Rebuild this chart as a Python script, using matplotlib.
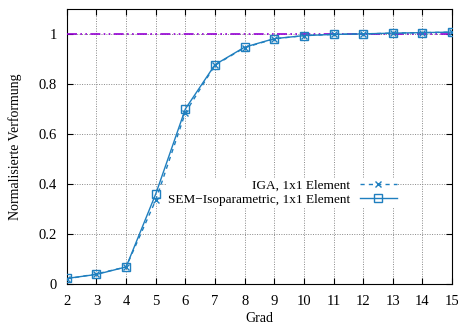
import matplotlib
matplotlib.use('Agg')
import matplotlib.pyplot as plt

plt.rcParams['font.family'] = ['Liberation Serif', 'DejaVu Serif']
plt.rcParams['font.size'] = 10

grad = [2, 3, 4, 5, 6, 7, 8, 9, 10, 11, 12, 13, 14, 15]
iga = [0.02, 0.04, 0.068, 0.335, 0.685, 0.875, 0.945, 0.98, 0.993, 0.998, 1.0, 1.003, 1.005, 1.007]
sem = [0.022, 0.038, 0.068, 0.36, 0.70, 0.877, 0.947, 0.981, 0.993, 0.998, 1.0, 1.003, 1.005, 1.007]
ref = [1.0, 1.0]

blue = '#1f7fbf'

fig = plt.figure(figsize=(4.58, 3.29), dpi=100)
ax = fig.add_axes([0.146, 0.137, 0.841, 0.836])

ax.plot([grad[0], grad[-1]], ref, color='#9400d3', linestyle=(0, (6, 2, 1, 2, 1, 2)), lw=1.2, zorder=3)
ax.plot(grad, iga, color=blue, linestyle=(0, (3, 3)), marker='x', ms=5, mew=1,
        lw=1, label='IGA, 1x1 Element', zorder=3)
ax.plot(grad, sem, color=blue, linestyle='-', marker='s', ms=6, mfc='none', mew=1,
        lw=1, label='SEM\u2212Isoparametric, 1x1 Element', zorder=3)

ax.set_xlim(2, 15)
ax.set_ylim(0, 1.1)
ax.set_xticks(grad)
ax.set_yticks([0, 0.2, 0.4, 0.6, 0.8, 1])
ax.set_yticklabels(['0', '0.2', '0.4', '0.6', '0.8', '1'])
ax.tick_params(direction='in', top=True, right=True, length=4, labelsize=10.5)
ax.tick_params(axis='x', pad=8)
ax.tick_params(axis='y', pad=7)
ax.grid(True, color='#888888', linestyle=(0, (1, 1.5)), lw=0.7)
ax.set_xlabel('Grad', labelpad=3)
ax.set_ylabel('Normalisierte Verformung', labelpad=12)

leg = ax.legend(loc='center right', bbox_to_anchor=(0.86, 0.331), frameon=True,
                markerfirst=False, handlelength=2.8, borderpad=0.1, labelspacing=0.15,
                handletextpad=0.75, fontsize=9.5, borderaxespad=0)
leg.get_frame().set_edgecolor('none')
leg.get_frame().set_facecolor('white')
leg.get_frame().set_alpha(1)
leg.set_zorder(2)
for t in leg.get_texts():
    t.set_ha('right')
leg._legend_box.align = 'right'

fig.savefig('out.png', dpi=100)
